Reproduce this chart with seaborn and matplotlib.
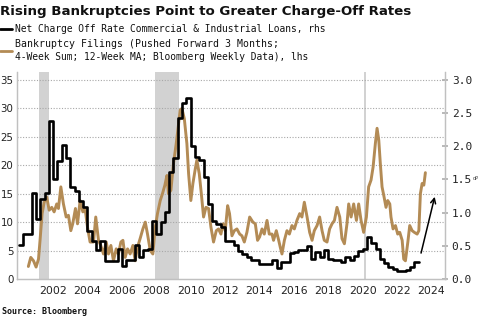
import numpy as np
import pandas as pd
import matplotlib
matplotlib.use("Agg")
import matplotlib.pyplot as plt
from matplotlib.lines import Line2D
from matplotlib.ticker import FormatStrFormatter
import seaborn as sns

# ---------------- data ----------------
title = "Rising Bankruptcies Point to Greater Charge-Off Rates"
legend_black = "Net Charge Off Rate Commercial & Industrial Loans, rhs"
legend_gold_1 = "Bankruptcy Filings (Pushed Forward 3 Months;"
legend_gold_2 = "4-Week Sum; 12-Week MA; Bloomberg Weekly Data), lhs"
source = "Source: Bloomberg"

# Net charge-off rate (%), quarterly from 2000Q1, rhs
chargeoff_start = 2000.0
chargeoff = [0.51, 0.68, 0.68, 1.29, 0.91, 1.21, 1.29, 2.38, 1.51, 1.78,
             2.02, 1.83, 1.39, 1.32, 1.18, 1.08, 0.72, 0.58, 0.43, 0.57,
             0.27, 0.27, 0.27, 0.45, 0.20, 0.29, 0.29, 0.51, 0.33, 0.43,
             0.45, 0.88, 0.68, 0.86, 1.01, 1.61, 1.82, 2.43, 2.65, 2.73,
             2.01, 1.84, 1.80, 1.53, 1.13, 0.88, 0.83, 0.78, 0.57, 0.57,
             0.51, 0.42, 0.37, 0.33, 0.28, 0.28, 0.22, 0.22, 0.22, 0.28,
             0.17, 0.25, 0.25, 0.39, 0.40, 0.44, 0.44, 0.50, 0.30, 0.40,
             0.33, 0.44, 0.30, 0.28, 0.28, 0.25, 0.33, 0.28, 0.35, 0.42,
             0.45, 0.63, 0.54, 0.45, 0.30, 0.24, 0.18, 0.15, 0.12, 0.12,
             0.14, 0.18, 0.25]

# Bankruptcy filings (lhs)
bk_years = [2000.56, 2000.70, 2000.86, 2001.01, 2001.15, 2001.24, 2001.36, 2001.48, 2001.63, 2001.77,
            2001.92, 2002.06, 2002.21, 2002.31, 2002.45, 2002.60, 2002.76, 2002.89, 2003.03, 2003.14,
            2003.30, 2003.42, 2003.57, 2003.73, 2003.86, 2004.00, 2004.15, 2004.35, 2004.48, 2004.64,
            2004.77, 2004.93, 2005.09, 2005.22, 2005.36, 2005.51, 2005.67, 2005.80, 2005.94, 2006.06,
            2006.19, 2006.33, 2006.48, 2006.64, 2006.77, 2006.91, 2007.06, 2007.22, 2007.36, 2007.49,
            2007.65, 2007.80, 2007.94, 2008.07, 2008.23, 2008.36, 2008.50, 2008.62, 2008.71, 2008.85,
            2009.00, 2009.16, 2009.30, 2009.39, 2009.49, 2009.63, 2009.78, 2009.88, 2010.01, 2010.13,
            2010.27, 2010.36, 2010.50, 2010.61, 2010.75, 2010.89, 2011.04, 2011.18, 2011.33, 2011.49,
            2011.62, 2011.76, 2011.88, 2012.01, 2012.15, 2012.26, 2012.40, 2012.54, 2012.69, 2012.85,
            2012.98, 2013.12, 2013.27, 2013.43, 2013.62, 2013.76, 2013.89, 2014.01, 2014.15, 2014.28,
            2014.44, 2014.57, 2014.73, 2014.82, 2014.98, 2015.12, 2015.21, 2015.31, 2015.45, 2015.60,
            2015.74, 2015.89, 2016.03, 2016.18, 2016.34, 2016.47, 2016.61, 2016.77, 2016.92, 2017.06,
            2017.19, 2017.35, 2017.50, 2017.64, 2017.77, 2017.93, 2018.08, 2018.22, 2018.36, 2018.51,
            2018.67, 2018.80, 2018.94, 2019.09, 2019.19, 2019.33, 2019.48, 2019.64, 2019.77, 2019.91,
            2020.06, 2020.22, 2020.35, 2020.49, 2020.61, 2020.74, 2020.84, 2020.94, 2021.03, 2021.13,
            2021.23, 2021.36, 2021.46, 2021.58, 2021.65, 2021.77, 2021.91, 2022.04, 2022.16, 2022.30,
            2022.39, 2022.49, 2022.63, 2022.74, 2022.88, 2023.01, 2023.17, 2023.27, 2023.36, 2023.46,
            2023.56, 2023.65]
bk_values = [2.2, 3.8, 3.2, 2.1, 3.5, 6.8, 11.5, 13.5, 14.4, 12.1,
             12.6, 11.8, 13.2, 12.4, 16.2, 13.2, 10.9, 11.2, 8.5, 9.7,
             12.4, 9.7, 13.8, 11.8, 12.4, 9.1, 6.5, 6.5, 10.9, 6.8,
             5.9, 4.4, 6.5, 4.4, 5.9, 3.2, 5.3, 4.4, 6.5, 6.8,
             3.8, 5.3, 4.4, 5.9, 3.2, 5.6, 7.1, 8.8, 10.0, 7.9,
             5.0, 4.4, 9.1, 11.5, 13.8, 15.0, 16.5, 18.2, 15.0, 15.6,
             20.3, 23.8, 27.4, 29.7, 30.0, 28.2, 23.8, 18.5, 13.8, 16.8,
             19.4, 20.9, 18.5, 15.3, 10.9, 12.6, 12.4, 9.1, 6.5, 8.5,
             8.8, 7.9, 9.7, 8.5, 12.9, 11.5, 7.6, 8.5, 8.8, 7.9,
             7.6, 6.5, 8.2, 10.9, 10.0, 9.7, 6.8, 7.4, 8.8, 7.9,
             10.3, 7.9, 7.9, 6.8, 8.5, 6.8, 5.6, 4.4, 6.8, 8.5,
             7.9, 9.4, 8.8, 10.3, 11.5, 10.9, 13.5, 10.9, 8.2, 6.8,
             8.5, 9.4, 10.9, 8.5, 6.8, 6.5, 8.8, 9.7, 10.3, 12.6,
             10.9, 7.1, 6.2, 9.7, 13.2, 10.9, 13.2, 10.3, 13.2, 10.3,
             8.2, 10.9, 16.2, 17.4, 19.7, 23.8, 26.5, 24.4, 20.3, 16.2,
             14.7, 12.6, 13.8, 13.2, 10.9, 8.8, 9.4, 7.9, 8.2, 6.8,
             3.5, 3.2, 6.5, 9.4, 8.5, 8.2, 7.9, 8.5, 15.0, 16.8,
             16.5, 18.7]

recessions = [(2001.17, 2001.78), (2007.90, 2009.33), (2020.10, 2020.20)]
x_ticks = list(range(2002, 2025, 2))
left_ticks = [0, 5, 10, 15, 20, 25, 30, 35]
right_ticks = [0.0, 0.5, 1.0, 1.5, 2.0, 2.5, 3.0]
arrow_from = (2023.36, 0.35)
arrow_to = (2024.23, 1.28)

# ---------------- frames ----------------
co_x = chargeoff_start + 0.25 * np.arange(len(chargeoff) + 1)
co_y = list(chargeoff) + [chargeoff[-1]]
co_df = pd.DataFrame({"year": co_x, "rate": co_y})
bk_df = pd.DataFrame({"year": bk_years, "filings": bk_values})

# ---------------- style ----------------
sns.set_theme(style="white")
plt.rcParams["font.family"] = ["DejaVu Sans"]

W, H = 485, 324
fig = plt.figure(figsize=(W / 100, H / 100), dpi=100)
fig.patch.set_facecolor("white")

L, R, B, T = 17, 445.5, 279, 72
ax = fig.add_axes([L / W, 1 - B / H, (R - L) / W, (B - T) / H])
ax2 = ax.twinx()

gold = "#b38b55"
ymax_left = 36.4
ax.set_ylim(0, ymax_left)
ax2.set_ylim(0, ymax_left * 3.0 / 35.0)
ax.set_xlim(1999.9, 2024.82)

for a, b in recessions:
    ax.axvspan(a, b, color="#d2d2d2", lw=0, zorder=0)

for v in left_ticks[1:]:
    ax.axhline(v, color="#a8a8a8", lw=0.8, ls=(0, (1, 1.5)), zorder=0.5)

sns.lineplot(data=bk_df, x="year", y="filings", ax=ax, color=gold, lw=2.1,
             estimator=None, sort=False, zorder=2)
sns.lineplot(data=co_df, x="year", y="rate", ax=ax2, color="black", lw=1.9,
             estimator=None, sort=False, drawstyle="steps-post", zorder=3)

ax.set_xlabel("")
ax.set_ylabel("")
ax2.set_xlabel("")
ax2.set_ylabel("")

ax.set_xticks(x_ticks)
ax.set_yticks(left_ticks)
ax2.set_yticks(right_ticks)
ax2.yaxis.set_major_formatter(FormatStrFormatter("%.1f"))

tick_color = "#222222"
ax.tick_params(axis="x", labelsize=7.8, colors="#b0b0b0", labelcolor=tick_color,
               direction="in", length=2, pad=5)
ax.tick_params(axis="y", labelsize=7.4, length=0, pad=2.5, labelcolor=tick_color)
ax2.tick_params(axis="y", labelsize=7.8, colors="#b0b0b0", labelcolor=tick_color,
                direction="inout", length=5, pad=2)
for lab in ax2.get_yticklabels():
    lab.set_fontfamily("DejaVu Sans Mono")
    lab.set_fontsize(8.0)

for a in (ax, ax2):
    a.grid(False)
    a.spines["top"].set_visible(False)
    for side in ("left", "bottom", "right"):
        a.spines[side].set_color("#c0c0c0")
        a.spines[side].set_linewidth(0.9)

ax2.annotate("", xy=arrow_to, xytext=arrow_from,
             arrowprops=dict(arrowstyle="->", color="black", lw=1.1,
                             mutation_scale=9))

fig.text(473 / W, 1 - 178 / H, "dP", fontsize=3.5, color="#444444",
         ha="left", va="center")

# ---------------- header / legend / source ----------------
renderer = fig.canvas.get_renderer()


def fit_text(x, y, s, width_px, size0, **kw):
    t = fig.text(x / W, 1 - y / H, s, fontsize=size0, va="center", ha="left", **kw)
    w = t.get_window_extent(renderer=renderer).width
    t.set_fontsize(size0 * width_px / w)
    return t


fit_text(0.5, 12, title, 412, 11, fontweight="bold", color="#111111")
mono = "DejaVu Sans Mono"
fit_text(15, 29, legend_black, 313, 7, family=mono, color="#111111")
fit_text(15, 44, legend_gold_1, 262, 7, family=mono, color="#111111")
fit_text(15, 57, legend_gold_2, 295, 7, family=mono, color="#111111")
fig.add_artist(Line2D([0 / W, 12 / W], [1 - 29 / H, 1 - 29 / H], color="black", lw=2))
fig.add_artist(Line2D([0 / W, 12 / W], [1 - 51 / H, 1 - 51 / H], color=gold, lw=2))
fit_text(2, 312, source, 85, 6, family=mono, fontweight="bold", color="#111111")

fig.savefig("out.png", dpi=100, facecolor="white")
